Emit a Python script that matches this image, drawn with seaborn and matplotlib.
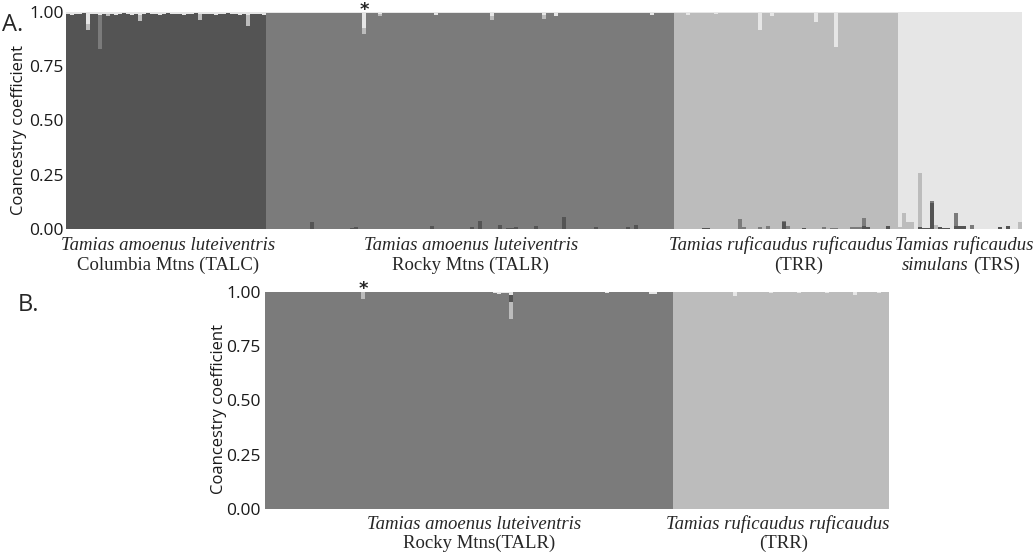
import matplotlib
matplotlib.use("Agg")
import matplotlib.pyplot as plt
import pandas as pd
import seaborn as sns

# cluster order, bottom to top of each stacked bar
CLUSTERS_A = ["TALC", "TALR", "TRR", "TRS"]
CLUSTERS_B = ["TALR", "TRR", "TALC", "TRS"]
COLORS = {"TALC": "#545454", "TALR": "#7b7b7b", "TRR": "#bcbcbc", "TRS": "#e6e6e6"}

y_ticks = [0.0, 0.25, 0.50, 0.75, 1.0]
y_tick_labels = ["0.00", "0.25", "0.50", "0.75", "1.00"]

# ---- panel A: four groups ----
talc_n = 50
talc_talr = {8: 0.155}
talc_trr = {5: 0.03, 10: 0.01, 18: 0.025, 33: 0.03, 45: 0.05}
talc_trs = [0.010, 0.012, 0.008, 0.010, 0.006, 0.053, 0.010, 0.008, 0.015, 0.010,
            0.010, 0.008, 0.012, 0.010, 0.006, 0.010, 0.012, 0.008, 0.015, 0.010,
            0.006, 0.010, 0.008, 0.012, 0.010, 0.006, 0.010, 0.008, 0.010, 0.012,
            0.008, 0.010, 0.006, 0.007, 0.010, 0.008, 0.010, 0.012, 0.008, 0.010,
            0.006, 0.010, 0.008, 0.012, 0.010, 0.015, 0.010, 0.008, 0.010, 0.014]

talr_n = 102
talr_talc = {11: 0.034, 21: 0.006, 22: 0.008, 41: 0.014, 51: 0.008, 53: 0.038,
             58: 0.02, 60: 0.005, 61: 0.005, 62: 0.008, 67: 0.013, 74: 0.057,
             82: 0.011, 90: 0.009, 92: 0.02}
talr_trr = {24: 0.027, 28: 0.01, 56: 0.02, 69: 0.02}
talr_trs = [0.006, 0.004, 0.005, 0.006, 0.004, 0.005, 0.006, 0.004, 0.005, 0.006,
            0.004, 0.005, 0.006, 0.004, 0.005, 0.006, 0.004, 0.005, 0.006, 0.004,
            0.005, 0.006, 0.004, 0.005, 0.075, 0.006, 0.004, 0.005, 0.010, 0.004,
            0.005, 0.006, 0.004, 0.005, 0.006, 0.004, 0.005, 0.006, 0.004, 0.005,
            0.006, 0.004, 0.014, 0.005, 0.006, 0.004, 0.005, 0.006, 0.004, 0.005,
            0.006, 0.004, 0.005, 0.006, 0.004, 0.005, 0.017, 0.004, 0.005, 0.006,
            0.004, 0.005, 0.006, 0.004, 0.005, 0.006, 0.004, 0.005, 0.006, 0.014,
            0.005, 0.006, 0.017, 0.004, 0.005, 0.006, 0.004, 0.005, 0.006, 0.004,
            0.005, 0.006, 0.004, 0.005, 0.006, 0.004, 0.005, 0.006, 0.004, 0.005,
            0.006, 0.004, 0.005, 0.006, 0.004, 0.005, 0.015, 0.004, 0.005, 0.006,
            0.004, 0.005]

trr_n = 56
trr_talc = {7: 0.004, 8: 0.004, 27: 0.03, 32: 0.005, 47: 0.013, 48: 0.01, 53: 0.015}
trr_talr = {16: 0.048, 17: 0.01, 21: 0.01, 23: 0.012, 27: 0.008, 28: 0.016, 37: 0.01,
            39: 0.005, 40: 0.005, 44: 0.008, 45: 0.01, 46: 0.01, 47: 0.037}
trr_trs = [0.005, 0.006, 0.004, 0.014, 0.005, 0.006, 0.004, 0.005, 0.006, 0.004,
           0.010, 0.005, 0.006, 0.004, 0.005, 0.006, 0.004, 0.005, 0.006, 0.004,
           0.005, 0.085, 0.004, 0.005, 0.018, 0.004, 0.005, 0.006, 0.004, 0.005,
           0.006, 0.004, 0.005, 0.006, 0.004, 0.047, 0.006, 0.004, 0.005, 0.006,
           0.162, 0.005, 0.006, 0.004, 0.005, 0.006, 0.004, 0.005, 0.006, 0.004,
           0.005, 0.006, 0.004, 0.005, 0.006, 0.004]

trs_n = 31
trs_talc = {5: 0.01, 6: 0.005, 7: 0.005, 8: 0.12, 10: 0.01, 11: 0.005, 12: 0.005,
            14: 0.012, 15: 0.015, 16: 0.015, 25: 0.008, 27: 0.013}
trs_talr = {8: 0.01, 14: 0.06, 18: 0.018}
trs_trr = {0: 0.01, 1: 0.074, 2: 0.03, 3: 0.03, 5: 0.25, 9: 0.02, 30: 0.03}

# ---- panel B: two groups ----
b_talr_n = 102
b_talr_trr = {24: 0.03, 61: 0.08}
b_talr_talc = {61: 0.03}
b_talr_trs = {61: 0.015, 57: 0.006, 58: 0.008, 59: 0.006, 60: 0.005,
              96: 0.01, 97: 0.008, 85: 0.004}

b_trr_n = 54
b_trr_trs = {15: 0.02, 24: 0.005, 31: 0.004, 38: 0.004, 45: 0.012, 51: 0.004}


def group_rows(start, n, home, clusters, parts):
    """Long rows (individual, cluster, q) for one sampled group."""
    rows = []
    for i in range(n):
        q = {c: 0.0 for c in clusters}
        for c, vals in parts.items():
            q[c] = vals[i] if isinstance(vals, list) else vals.get(i, 0.0)
        q[home] = 1.0 - sum(q.values())
        for c in clusters:
            rows.append({"ind": start + i, "cluster": c, "q": q[c]})
    return rows


rows_a = []
rows_a += group_rows(0, talc_n, "TALC", CLUSTERS_A,
                     {"TALR": talc_talr, "TRR": talc_trr, "TRS": talc_trs})
rows_a += group_rows(talc_n, talr_n, "TALR", CLUSTERS_A,
                     {"TALC": talr_talc, "TRR": talr_trr, "TRS": talr_trs})
rows_a += group_rows(talc_n + talr_n, trr_n, "TRR", CLUSTERS_A,
                     {"TALC": trr_talc, "TALR": trr_talr, "TRS": trr_trs})
rows_a += group_rows(talc_n + talr_n + trr_n, trs_n, "TRS", CLUSTERS_A,
                     {"TALC": trs_talc, "TALR": trs_talr, "TRR": trs_trr})
df_a = pd.DataFrame(rows_a)

rows_b = []
rows_b += group_rows(0, b_talr_n, "TALR", CLUSTERS_B,
                     {"TRR": b_talr_trr, "TALC": b_talr_talc, "TRS": b_talr_trs})
rows_b += group_rows(b_talr_n, b_trr_n, "TRR", CLUSTERS_B, {"TRS": b_trr_trs})
df_b = pd.DataFrame(rows_b)

sns.set_style("white")
plt.rcParams["font.family"] = ["Open Sans", "DejaVu Sans"]

fig = plt.figure(figsize=(10.36, 5.54), dpi=100)
ax_a = fig.add_axes([66 / 1036, 1 - 229 / 554, 956 / 1036, 217 / 554])
ax_b = fig.add_axes([265 / 1036, 1 - 509 / 554, 624 / 1036, 217 / 554])


def structure_plot(ax, df, clusters, n_total, pad, label_xy):
    sns.histplot(
        data=df, x="ind", weights="q", hue="cluster",
        hue_order=clusters[::-1], palette=COLORS,
        multiple="stack", discrete=True, shrink=1, alpha=1,
        linewidth=0, edgecolor="none", antialiased=False,
        legend=False, ax=ax,
    )
    ax.set_xlim(-0.5, n_total - 0.5)
    ax.set_ylim(0, 1)
    ax.set_xticks([])
    ax.set_xlabel("")
    ax.set_yticks(y_ticks)
    ax.set_yticklabels(y_tick_labels, fontsize=12.5, color="#1a1a1a")
    ax.tick_params(axis="y", length=0, pad=pad)
    ax.set_ylabel("Coancestry coefficient", fontsize=12, color="#1a1a1a")
    ax.yaxis.set_label_coords(*label_xy)
    for s in ax.spines.values():
        s.set_visible(False)


structure_plot(ax_a, df_a, CLUSTERS_A, talc_n + talr_n + trr_n + trs_n, 1.5,
               (-0.0408, 0.456))
structure_plot(ax_b, df_b, CLUSTERS_B, b_talr_n + b_trr_n, 3, (-0.0609, 0.463))

serif = "Liberation Serif"
fs = 13.5
tr_a = ax_a.get_xaxis_transform()
tr_b = ax_b.get_xaxis_transform()
y1, y2 = -0.097, -0.19


def two_line(ax, tr, x1, x2, top, bottom, yy1=y1, yy2=y2):
    ax.text(x1, yy1, top, transform=tr, ha="center", va="baseline",
            family=serif, style="italic", fontsize=fs)
    ax.text(x2, yy2, bottom, transform=tr, ha="center", va="baseline",
            family=serif, fontsize=fs)


two_line(ax_a, tr_a, 25, 25, "Tamias amoenus luteiventris", "Columbia Mtns (TALC)")
two_line(ax_a, tr_a, 100.75, 100.75, "Tamias amoenus luteiventris", "Rocky Mtns (TALR)")
two_line(ax_a, tr_a, 178.25, 182.75, "Tamias ruficaudus ruficaudus", "(TRR)")
ax_a.text(224, y1, "Tamias ruficaudus", transform=tr_a, ha="center", va="baseline",
          family=serif, style="italic", fontsize=fs)
ax_a.text(225, y2, "simulans", transform=tr_a, ha="right", va="baseline",
          family=serif, style="italic", fontsize=fs)
ax_a.text(226.25, y2, "(TRS)", transform=tr_a, ha="left", va="baseline",
          family=serif, fontsize=fs)

two_line(ax_b, tr_b, 51.75, 53.1, "Tamias amoenus luteiventris", "Rocky Mtns(TALR)",
         -0.092, -0.18)
two_line(ax_b, tr_b, 127.6, 129.25, "Tamias ruficaudus ruficaudus", "(TRR)",
         -0.092, -0.18)

# asterisks over the highlighted individual
ax_a.text(talc_n + 24, 0.985, "*", transform=tr_a, ha="center", va="baseline",
          fontsize=13, family="DejaVu Sans", fontweight="bold")
ax_b.text(24, 0.992, "*", transform=tr_b, ha="center", va="baseline",
          fontsize=13, family="DejaVu Sans", fontweight="bold")

fig.text(2 / 1036, 1 - 31 / 554, "A.", fontsize=17, ha="left", va="baseline")
fig.text(18 / 1036, 1 - 311 / 554, "B.", fontsize=17, ha="left", va="baseline")

fig.savefig("out.png", dpi=100)
